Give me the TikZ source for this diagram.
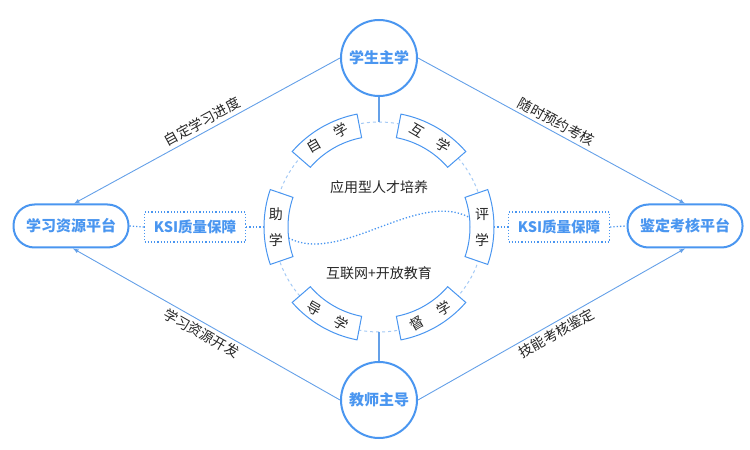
\documentclass[tikz,border=0pt]{standalone}
\usepackage{fontspec}
\setmainfont{Noto Sans CJK SC}
\definecolor{mainblue}{RGB}{74,150,240}
\definecolor{lineblue}{RGB}{100,160,232}
\definecolor{paleblue}{RGB}{165,202,245}
\begin{document}
\begin{tikzpicture}[x=1pt,y=1pt,
  hub/.style={circle,draw=mainblue,line width=2pt,fill=white,minimum size=76pt,inner sep=0pt,
    text=mainblue,font=\fontsize{15}{17}\selectfont\bfseries},
  platform/.style={rectangle,rounded corners=21pt,draw=mainblue,line width=2pt,fill=white,
    minimum width=115pt,minimum height=43pt,text=mainblue,font=\fontsize{15}{17}\selectfont\bfseries},
  ksi/.style={rectangle,draw=mainblue,dotted,line width=1.2pt,minimum width=101pt,minimum height=30pt,
    text=mainblue,font=\fontsize{14.5}{17}\selectfont\bfseries},
  link/.style={draw=lineblue,line width=0.9pt,-latex},
  dotlink/.style={draw=mainblue,dotted,line width=1.3pt},
  tab/.style={draw=mainblue,line width=1pt,fill=white},
  lbl/.style={font=\fontsize{14}{16}\selectfont,text=black!85}]
\useasboundingbox (0,0) rectangle (750,450);

\coordinate (o) at (379,223);
\draw[paleblue,dashed,line width=1pt] (o) circle[radius=105];
\path (o) ++(90:105) coordinate (ctop);
\path (o) ++(270:105) coordinate (cbot);
\path (o) ++(180:115) coordinate (tabl);
\path (o) ++(0:115) coordinate (tabr);
\path (o) ++(187:91) coordinate (wl);
\path (o) ++(6:91) coordinate (wr);

\node[hub] (stu) at (379,392) {学生主学};
\node[hub] (tea) at (379,50) {教师主导};
\node[platform] (res) at (71,224) {学习资源平台};
\node[platform] (exam) at (685,224) {鉴定考核平台};
\node[ksi] (ksil) at (195,223) {KSI质量保障};
\node[ksi] (ksir) at (559,223) {KSI质量保障};

\draw[lineblue,line width=1.5pt] (stu.south) -- (ctop);
\draw[lineblue,line width=1.5pt] (tea.north) -- (cbot);

\draw[dotlink] (res.east) -- (ksil.west);
\draw[dotlink] (ksil.east) -- (tabl);
\draw[dotlink] (tabr) -- (ksir.west);
\draw[dotlink] (ksir.east) -- (exam.west);
\draw[dotlink] (wl) .. controls +(52,-27) and +(-52,28) .. (wr);

% six tabs on the ring
\foreach \ang in {0,60,...,300}
  \draw[tab,shift={(o)}] ({\ang-19}:91) arc[start angle=\ang-19,end angle=\ang+19,radius=91]
    -- ({\ang+19}:115) arc[start angle=\ang+19,end angle=\ang-19,radius=115] -- cycle;
\foreach \ang/\da/\db/\rot/\ca/\cb in {120/8.5/-8.5/30/自/学,60/8.5/-8.5/-30/互/学,
    180/-7/7/0/助/学,0/7/-7/0/评/学,240/-8.5/8.5/-30/导/学,300/-8.5/8.5/30/督/学}{
  \node[lbl,rotate=\rot] (c\ang a) at ([shift={({\ang+\da}:104)}]o) {\ca};
  \node[lbl,rotate=\rot] (c\ang b) at ([shift={({\ang+\db}:104)}]o) {\cb};
}

\node[lbl] (goal) at (379,263) {应用型人才培养};
\node[lbl] (mode) at (379,177) {互联网+开放教育};

\draw[link] (stu.west) -- node[lbl,sloped,above] (l1) {自定学习进度} ([xshift=3pt]res.north);
\draw[link] (stu.east) -- node[lbl,sloped,above] (l2) {随时预约考核} (exam.north);
\draw[link] (tea.west) -- node[lbl,sloped,below] (l3) {学习资源开发} ([xshift=2pt]res.south);
\draw[link] (tea.east) -- node[lbl,sloped,below] (l4) {技能考核鉴定} (exam.south);
\end{tikzpicture}
\end{document}
